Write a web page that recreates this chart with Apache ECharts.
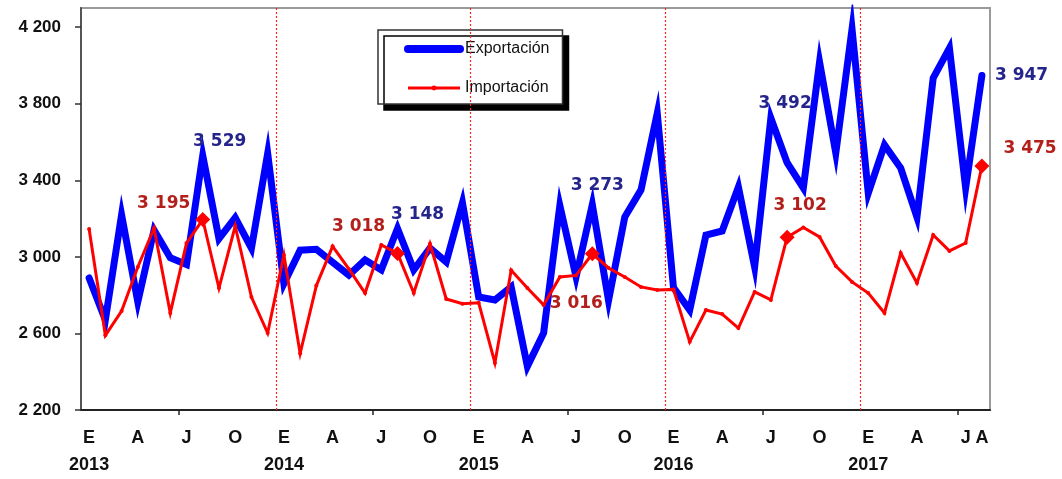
<!DOCTYPE html>
<html><head><meta charset="utf-8">
<script src="https://cdn.jsdelivr.net/npm/echarts@6/dist/echarts.min.js"></script>
<style>html,body{margin:0;padding:0;background:#fff}#c{width:1062px;height:479px}</style>
</head><body><div id="c"></div>
<script>
// ---- data ----
const years = ['2013', '2014', '2015', '2016', '2017'];
const monthLetters = ['E', 'F', 'M', 'A', 'M', 'J', 'J', 'A', 'S', 'O', 'N', 'D'];
const lastMonthCount = 8; // 2017 ends in August
const exportacion = [
  2890, 2670, 3220, 2765, 3140, 2995, 2960, 3529, 3095, 3205, 3045, 3540,
  2860, 3035, 3040, 2972, 2905, 2984, 2932, 3148, 2932, 3046, 2973, 3282,
  2790, 2775, 2843, 2428, 2602, 3268, 2895, 3273, 2772, 3208, 3350, 3750,
  2840, 2722, 3114, 3135, 3365, 2947, 3725, 3492, 3360, 4018, 3542, 4190,
  3333, 3585, 3464, 3208, 3934, 4090, 3360, 3947
];
const importacion = [
  3145, 2590, 2717, 2947, 3150, 2707, 3072, 3195, 2837, 3161, 2790, 2602,
  3010, 2495, 2850, 3055, 2937, 2811, 3062, 3018, 2811, 3068, 2780, 2755,
  2760, 2446, 2930, 2837, 2749, 2895, 2903, 3016, 2942, 2895, 2843, 2827,
  2830, 2556, 2722, 2701, 2628, 2817, 2775, 3102, 3153, 3104, 2952, 2869,
  2811, 2707, 3020, 2863, 3114, 3031, 3072, 3475
];
const yTicks = [2200, 2600, 3000, 3400, 3800, 4200];
const seriesNames = ['Exportación', 'Importación'];

// ---- build ----
const categories = [];
years.forEach((y, yi) => {
  const n = yi === years.length - 1 ? lastMonthCount : 12;
  for (let m = 0; m < n; m++) categories.push(y + '-' + (m + 1));
});
const nCat = categories.length;
const lastIdx = nCat - 1;
const fmt = v => String(v).replace(/\B(?=(\d{3})+(?!\d))/g, ' ');
// year boundaries and mid-year ticks, in category-band units
const yearBounds = [];
const midTicks = [];
for (let b = 12; b < nCat; b += 12) yearBounds.push(b);
for (let b = 6; b < nCat; b += 12) midTicks.push(b);

const expLabel = [
  { position: 'top', offset: [17, 0] },
  { position: 'top', offset: [20, 1] },
  { position: 'top', offset: [5, -5] },
  { position: 'top', offset: [-2, -45] },
  { position: 'right', distance: 12, offset: [0, 0] }
];
const impLabel = [
  { position: 'top', offset: [-39, 5] },
  { position: 'top', offset: [-39, -6] },
  { position: 'bottom', offset: [-16, 29] },
  { position: 'top', offset: [13, -11] },
  { position: 'right', distance: 14, offset: [0, -17] }
];
const labelFont = { fontFamily: 'DejaVu Sans', fontWeight: 'bold', fontSize: 17 };
const axisFont = 'Liberation Sans, Arial, sans-serif';
const gridRed = '#ff2020';

const expData = exportacion.map((v, i) => {
  if (i % 12 !== 7) return v;
  const k = Math.floor(i / 12);
  return {
    value: v, symbol: 'circle', symbolSize: 2,
    label: Object.assign({ show: true, color: '#24248c', formatter: p => fmt(p.value) }, labelFont, expLabel[k])
  };
});
const impData = importacion.map((v, i) => {
  if (i % 12 !== 7) return v;
  const k = Math.floor(i / 12);
  return {
    value: v, symbol: 'diamond', symbolSize: 15,
    label: Object.assign({ show: true, color: '#b3201c', formatter: p => fmt(p.value) }, labelFont, impLabel[k])
  };
});

const chart = echarts.init(document.getElementById('c'), null, { renderer: 'canvas' });
chart.setOption({
  animation: false,
  backgroundColor: '#fff',
  grid: { left: 81, right: 72, top: 8, bottom: 69, show: true, borderColor: '#9a9a9a', borderWidth: 2, backgroundColor: '#fff' },
  legend: {
    orient: 'vertical', left: 378, top: 30,
    padding: [11, 13, 8, 26], itemGap: 23, itemWidth: 52, itemHeight: 6,
    backgroundColor: '#fff', borderColor: '#333', borderWidth: 1.5,
    shadowColor: '#000', shadowOffsetX: 6, shadowOffsetY: 6, shadowBlur: 0,
    textStyle: { fontFamily: 'Liberation Sans', fontSize: 16, color: '#111' },
    data: [
      { name: seriesNames[0], lineStyle: { width: 8, color: '#0000ff', cap: 'round' }, itemStyle: { opacity: 0 } },
      { name: seriesNames[1], lineStyle: { width: 3, color: '#ff0000' }, itemStyle: { color: '#ff0000' } }
    ]
  },
  xAxis: [
    {
      type: 'category', data: categories, boundaryGap: true,
      axisLine: { lineStyle: { color: '#222', width: 2 } },
      axisTick: { show: false },
      splitLine: { show: false },
      axisLabel: {
        interval: (i) => i % 3 === 0 || i === lastIdx,
        margin: 15,
        formatter: (val, i) => {
          const m = i % 12;
          const letter = monthLetters[m];
          if (m === 0) return '{m|' + letter + '}\n{y|' + years[Math.floor(i / 12)] + '}';
          return '{m|' + letter + '}';
        },
        rich: {
          m: { fontFamily: axisFont, fontWeight: 'bold', fontSize: 18, color: '#111', lineHeight: 27 },
          y: { fontFamily: axisFont, fontWeight: 'bold', fontSize: 18, color: '#111', lineHeight: 27 }
        }
      }
    },
    {
      type: 'value', min: 0, max: nCat, position: 'bottom',
      axisLine: { show: false },
      axisTick: { show: true, customValues: midTicks, length: 5, lineStyle: { color: '#222', width: 1.5 } },
      axisLabel: { show: false },
      splitLine: { show: false }
    }
  ],
  yAxis: {
    type: 'value', min: 2200, max: 4300, interval: 400,
    axisLine: { show: true, lineStyle: { color: '#555', width: 2 } },
    axisTick: { show: true, length: 6, customValues: yTicks, lineStyle: { color: '#333', width: 1.5 } },
    splitLine: { show: false },
    axisLabel: {
      customValues: yTicks, margin: 20, formatter: v => fmt(v),
      fontFamily: axisFont, fontWeight: 'bold', fontSize: 17, color: '#111'
    }
  },
  series: [
    {
      name: 'yearLines', type: 'line', xAxisIndex: 1, data: [], silent: true,
      color: gridRed, itemStyle: { color: gridRed }, lineStyle: { color: gridRed },
      markLine: {
        silent: true, symbol: 'none', label: { show: false },
        lineStyle: { color: gridRed, width: 1.2, type: [2, 2], opacity: 1 },
        data: yearBounds.map(b => ({ xAxis: b, lineStyle: { color: gridRed, width: 1.2, type: [2, 2] } }))
      }
    },
    {
      name: seriesNames[0], type: 'line', data: expData, symbol: 'none', showAllSymbol: true,
      lineStyle: { color: '#0000ff', width: 7, join: 'miter', cap: 'round' },
      itemStyle: { color: '#0000ff' }, z: 2
    },
    {
      name: seriesNames[1], type: 'line', data: impData, symbol: 'circle', symbolSize: 4, showAllSymbol: true,
      lineStyle: { color: '#ff0000', width: 3, join: 'miter' },
      itemStyle: { color: '#ff0000' }, z: 3
    }
  ]
});
</script></body></html>
